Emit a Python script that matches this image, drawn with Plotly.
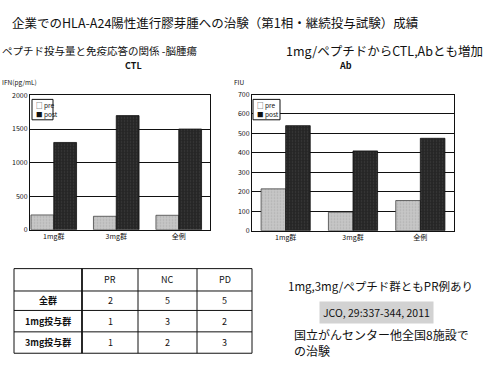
import plotly.graph_objects as go

# ---- data ----
groups = ["1mg群", "3mg群", "全例"]
ctl_pre = [220, 200, 215]
ctl_post = [1300, 1700, 1500]
ab_pre = [215, 95, 155]
ab_post = [540, 410, 475]
series_names = ["pre", "post"]

table_header = ["", "PR", "NC", "PD"]
table_rows = ["全群", "1mg投与群", "3mg投与群"]
table_pr = [2, 1, 1]
table_nc = [5, 3, 2]
table_pd = [5, 2, 3]

W, H = 504, 366
JP = "Noto Sans CJK JP"
PRE_COL = "#c6c6c6"
POST_COL = "#262626"
INK = "#111"


def px(x):
    return x / W


def py(y):
    return 1 - y / H


fig = go.Figure()
xpos = list(range(len(groups)))

pre_marker = dict(color=PRE_COL, line=dict(color="#444", width=0.8),
                  pattern=dict(shape=".", size=3, solidity=0.25, fgcolor="#9a9a9a"))
post_marker = dict(color=POST_COL, line=dict(color=INK, width=0.8),
                   pattern=dict(shape=".", size=3, solidity=0.2, fgcolor="#555"))

# CTL chart
fig.add_trace(go.Bar(x=xpos, y=ctl_pre, name=series_names[0], xaxis="x", yaxis="y",
                     marker=pre_marker))
fig.add_trace(go.Bar(x=xpos, y=ctl_post, name=series_names[1], xaxis="x", yaxis="y",
                     marker=post_marker))
# Ab chart
fig.add_trace(go.Bar(x=xpos, y=ab_pre, name=series_names[0], xaxis="x2", yaxis="y2",
                     marker=pre_marker))
fig.add_trace(go.Bar(x=xpos, y=ab_post, name=series_names[1], xaxis="x2", yaxis="y2",
                     marker=post_marker))

axis_font = dict(family=JP, size=7, color=INK)
common_x = dict(tickmode="array", tickvals=xpos, ticktext=groups, tickfont=axis_font,
                showline=True, linecolor=INK, linewidth=1, mirror=True,
                showgrid=False, zeroline=False, ticks="", fixedrange=True)
common_y = dict(tickfont=axis_font, showline=True, linecolor=INK, linewidth=1, mirror=True,
                showgrid=True, gridcolor=INK, gridwidth=1, zeroline=False, ticks="")

fig.update_layout(
    width=W, height=H, margin=dict(l=0, r=0, t=0, b=0),
    paper_bgcolor="white", plot_bgcolor="white",
    barmode="group", bargap=0.27, bargroupgap=0,
    font=dict(family=JP, color=INK),
    showlegend=False,
    xaxis=dict(domain=[px(30), px(210)], range=[-0.38, 2.5], anchor="y", **common_x),
    yaxis=dict(domain=[py(230), py(92)], range=[0, 2000], dtick=500, anchor="x", **common_y),
    xaxis2=dict(domain=[px(252), px(454)], range=[-0.5, 2.5], anchor="y2", **common_x),
    yaxis2=dict(domain=[py(231), py(91)], range=[0, 700], dtick=100, anchor="x2", **common_y),
)

shapes = []
annos = []


def add_text(t, x, y, size, anchor="center", **kw):
    annos.append(dict(text=t, x=px(x), y=py(y), xref="paper", yref="paper",
                      xanchor=anchor, yanchor="middle", showarrow=False,
                      font=dict(family=JP, size=size, color=INK), **kw))


# small boxed legends inside each chart
for (x0, y0, w) in [(32, 96, 21), (253, 96, 27)]:
    shapes.append(dict(type="rect", xref="paper", yref="paper",
                       x0=px(x0), x1=px(x0 + w), y0=py(y0), y1=py(y0 + 21),
                       line=dict(color=INK, width=1), fillcolor="white", layer="above"))
    add_text(f"□ {series_names[0]}", x0 + 2, y0 + 6, 6.5, "left")
    add_text(f"■ {series_names[1]}", x0 + 2, y0 + 15, 6.5, "left")

# response table grid
col_edges = [14, 82, 138, 197, 252]
row_edges = [270, 293, 313, 335, 357]
for i, cx in enumerate(col_edges):
    shapes.append(dict(type="line", xref="paper", yref="paper",
                       x0=px(cx), x1=px(cx), y0=py(row_edges[0]), y1=py(row_edges[-1]),
                       line=dict(color=INK, width=1.8 if i == 1 else 1)))
for ry in row_edges:
    shapes.append(dict(type="line", xref="paper", yref="paper",
                       x0=px(col_edges[0]), x1=px(col_edges[-1]), y0=py(ry), y1=py(ry),
                       line=dict(color=INK, width=1)))

col_centers = [(a + b) / 2 for a, b in zip(col_edges[:-1], col_edges[1:])]
row_centers = [(a + b) / 2 for a, b in zip(row_edges[:-1], row_edges[1:])]
for j, h in enumerate(table_header):
    if h:
        add_text(h, col_centers[j], row_centers[0], 9)
table_cols = [table_rows, table_pr, table_nc, table_pd]
for i in range(len(table_rows)):
    for j, col in enumerate(table_cols):
        add_text(f"<b>{col[i]}</b>" if j == 0 else str(col[i]),
                 col_centers[j], row_centers[i + 1], 9)

# headings and notes
add_text("企業でのHLA-A24陽性進行膠芽腫への治験（第1相・継続投与試験）成績", 215, 17, 12.5)
add_text("ペプチド投与量と免疫応答の関係 -脳腫瘍", 0, 46, 10.5, "left")
add_text("1mg/ペプチドからCTL,Abとも増加", 284, 46, 12.5, "left")
add_text("<b>CTL</b>", 133, 61, 9)
add_text("<b>Ab</b>", 345, 61, 9)
add_text("IFN(pg/mL)", 0, 78, 6.5, "left")
add_text("FIU", 232, 78, 6.5, "left")
add_text("1mg,3mg/ペプチド群ともPR例あり", 286, 288, 11.5, "left")
add_text("JCO, 29:337-344, 2011", 376, 315, 10.5, bgcolor="#d2d2d2", borderpad=3)
annos.append(dict(text="国立がんセンター他全国8施設で<br>の治験", x=px(292), y=py(365),
                  xref="paper", yref="paper", xanchor="left", yanchor="bottom",
                  align="left", showarrow=False,
                  font=dict(family=JP, size=12, color=INK)))

fig.update_layout(shapes=shapes, annotations=annos)
fig.write_html("out.html")
